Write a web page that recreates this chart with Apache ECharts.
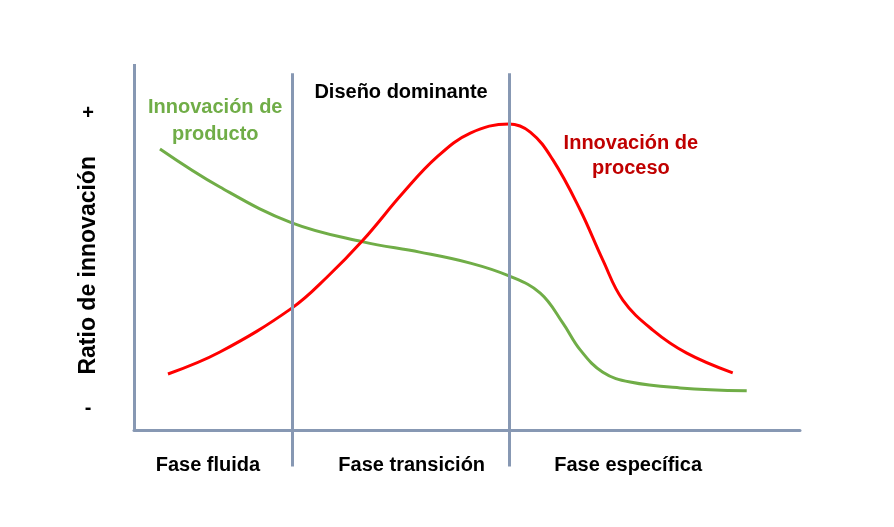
<!DOCTYPE html>
<html><head><meta charset="utf-8">
<script src="https://cdn.jsdelivr.net/npm/echarts@6/dist/echarts.min.js"></script>
<style>html,body{margin:0;padding:0;background:#fff}#c{width:894px;height:527px}</style>
</head><body><div id="c"></div>
<script>
// Phase labels along the x axis (x positions in 0-100 time units)
const phaseNames = ['Fase fluida', 'Fase transición', 'Fase específica'];
const phasePos = [11.1, 41.7, 74.2];
// Phase boundaries (dominant design lines)
const boundaries = [23.7, 56.3];
// Y tick labels
const yTickLabels = ['-', '+'];
const yTickPos = [6, 86.4];
// Product innovation (green) [x, y]
const productX = [3.9, 12.9, 23.7, 34.4, 42.9, 50.5, 56.3, 61.0, 64.4, 67.0, 70.4, 74.5, 82.0, 92.0];
const productY = [76.8, 66.4, 56.6, 51.4, 48.6, 45.6, 42.1, 37.4, 29.2, 21.9, 15.8, 13.1, 11.5, 10.7];
// Process innovation (red) [x, y]
const processX = [5.1, 12.9, 23.7, 29.0, 34.4, 40.4, 45.5, 50.5, 56.3, 59.5, 62.9, 67.0, 70.4, 73.4, 77.9, 83.0, 89.9];
const processY = [15.3, 21.3, 33.3, 41.8, 51.9, 64.8, 74.6, 81.1, 83.6, 81.4, 73.8, 60.1, 46.4, 35.5, 27.3, 21.0, 15.6];

const axisColor = '#8798b3';
const FONT = "'Liberation Sans', Arial, sans-serif";
const zip = (a, b) => a.map((v, i) => [v, b[i]]);

const chart = echarts.init(document.getElementById('c'));
chart.setOption({
  animation: false,
  backgroundColor: '#fff',
  grid: { left: 134, right: 94, top: 64, bottom: 60.4 },
  xAxis: {
    type: 'value', min: 0, max: 100,
    axisLine: { show: true, onZero: true, lineStyle: { color: axisColor, width: 3 } },
    axisTick: { show: false }, splitLine: { show: false },
    axisLabel: { show: false }
  },
  yAxis: {
    type: 'value', min: -10, max: 100,
    name: 'Ratio de innovación', nameLocation: 'middle', nameRotate: 90, nameGap: 34,
    nameMoveOverlap: false,
    nameTextStyle: { color: '#000', fontFamily: FONT, fontWeight: 'bold', fontSize: 23 },
    axisLine: { show: false }, axisTick: { show: false }, splitLine: { show: false },
    axisLabel: {
      customValues: yTickPos, margin: 46,
      formatter: (v) => yTickLabels[yTickPos.indexOf(v)] || '',
      color: '#000', fontFamily: FONT, fontWeight: 'bold', fontSize: 20, align: 'center'
    }
  },
  series: [
    {
      type: 'line', data: [], silent: true,
      markLine: {
        symbol: 'none', silent: true, label: { show: false },
        lineStyle: { color: axisColor, width: 3, type: 'solid' },
        data: [
          [{ coord: [0, 0] }, { coord: [0, 100] }],
          ...boundaries.map(b => [{ coord: [b, -10] }, { coord: [b, 97.5] }])
        ]
      }
    },
    {
      type: 'line', data: zip(productX, productY), smooth: 0.4, symbol: 'none',
      lineStyle: { color: '#70ad47', width: 3 }
    },
    {
      type: 'line', data: zip(processX, processY), smooth: 0.4, symbol: 'none',
      lineStyle: { color: '#ff0000', width: 3 }
    },
    {
      type: 'scatter', symbolSize: 1, silent: true,
      itemStyle: { opacity: 1, color: 'rgba(0,0,0,0)' },
      data: [
        { value: [40.1, 92.3], label: { formatter: 'Diseño dominante', color: '#000000' } },
        { value: [12.2, 84.4], label: { formatter: 'Innovación de\nproducto', color: '#70ad47', lineHeight: 27 } },
        { value: [74.6, 74.9], label: { formatter: 'Innovación de\nproceso', color: '#c00000', lineHeight: 25 } },
        ...phaseNames.map((n, i) => ({ value: [phasePos[i], -9.8], label: { formatter: n, color: '#000000' } }))
      ],
      label: {
        show: true, position: 'inside', align: 'center', verticalAlign: 'middle', opacity: 1,
        textBorderWidth: 0, fontFamily: FONT, fontWeight: 'bold', fontSize: 20, lineHeight: 26
      }
    }
  ]
});
</script></body></html>
